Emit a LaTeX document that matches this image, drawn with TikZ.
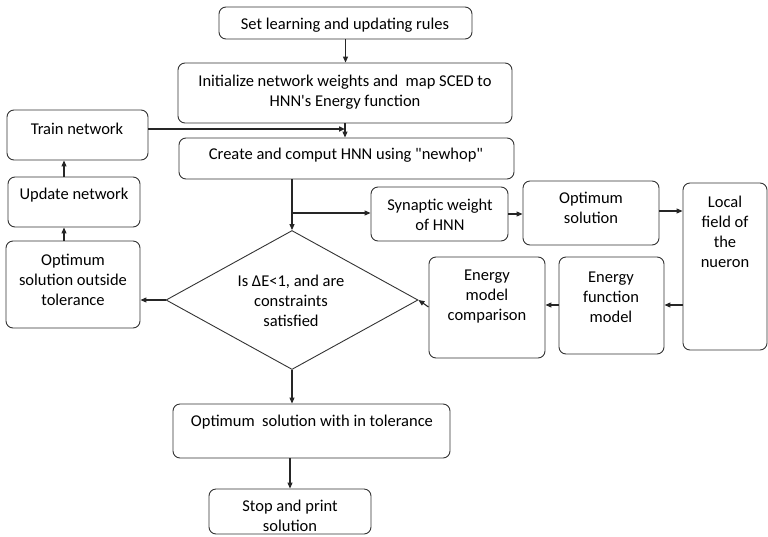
\documentclass[tikz,border=0pt]{standalone}
\usepackage{fontspec}
\setmainfont{Carlito}
\usetikzlibrary{arrows.meta,shapes.geometric}
\newcommand\sdq{\XeTeXglyph\XeTeXcharglyph"22\relax}
\newcommand\ssq{\XeTeXglyph\XeTeXcharglyph"27\relax}
\begin{document}
\begin{tikzpicture}[x=1pt,y=-1pt,
  box/.style={draw=black!80, line width=0.9pt, rounded corners=7pt, inner sep=0pt},
  lbl/.style={font=\fontsize{16.5}{20}\selectfont, align=center, inner sep=0pt, text=black},
  arr/.style={draw=black!85, line width=1.1pt, -{Triangle[length=6pt,width=5pt]}}]
\useasboundingbox (0,0) rectangle (768,536);
% boxes
\node[box, minimum width=253pt, minimum height=32pt] (set) at (345.5,23) {};
\node[box, minimum width=334pt, minimum height=60pt] (init) at (345,93) {};
\node[box, minimum width=141pt, minimum height=50pt] (train) at (77.5,135) {};
\node[box, minimum width=335pt, minimum height=41pt] (create) at (346.5,158.5) {};
\node[box, minimum width=132pt, minimum height=50pt] (update) at (74,202) {};
\node[box, minimum width=134pt, minimum height=87pt] (outside) at (73,284.5) {};
\node[box, minimum width=137pt, minimum height=54pt] (syn) at (439.5,214) {};
\node[box, minimum width=136pt, minimum height=64pt] (opt) at (591,213) {};
\node[box, minimum width=84pt, minimum height=167pt] (local) at (725,266.5) {};
\node[box, minimum width=105pt, minimum height=97pt] (enfunc) at (611.5,305.5) {};
\node[box, minimum width=116pt, minimum height=101pt] (encomp) at (487,307.5) {};
\node[box, minimum width=277pt, minimum height=54pt] (within) at (311.5,431) {};
\node[box, minimum width=162pt, minimum height=45pt] (stop) at (290,511.5) {};
\node[draw=black!80, line width=0.9pt, diamond, minimum width=252pt, minimum height=139pt, inner sep=0pt] (dia) at (292,300) {};
% labels
\node[lbl] (t1) at (345,25) {Set learning and updating rules};
\node[lbl] (t2) at (345,92) {Initialize network weights and\ \ map SCED to\\HNN\ssq s Energy function};
\node[lbl] (t3) at (77,129) {Train network};
\node[lbl] (t4) at (346,155) {Create and comput HNN using \sdq newhop\sdq};
\node[lbl] (t5) at (74,195) {Update network};
\node[lbl] (t6) at (73,280) {Optimum\\solution outside\\tolerance};
\node[lbl] (t7) at (291,301) {Is ΔE<1, and are\\constraints\\satisfied};
\node[lbl] (t8) at (440,215) {Synaptic weight\\of HNN};
\node[lbl] (t9) at (591,208) {Optimum\\solution};
\node[lbl] (t10) at (725,232) {Local\\field of\\the\\nueron};
\node[lbl] (t11) at (611,297) {Energy\\function\\model};
\node[lbl] (t12) at (487,297) {Energy\\model\\comparison};
\node[lbl] (t13) at (312,422) {Optimum\ \ solution with in tolerance};
\node[lbl] (t14) at (290,516) {Stop and print\\solution};
% connectors
\draw[arr] (set.south) -- (set.south |- init.north);
\draw[arr] (init.south) -- (init.south |- create.north);
\draw[arr, line width=1.6pt] (train.east |- 0,129) -- (init.south |- 0,129);
\draw[arr] (update.north -| 64,0) -- (train.south -| 64,0);
\draw[arr] (outside.north -| 64,0) -- (update.south -| 64,0);
\draw[arr] (dia.north |- create.south) -- (dia.north);
\draw[arr] (dia.north |- 0,213) -- (syn.west |- 0,213);
\draw[arr] (syn.east) -- (opt.west |- syn.east);
\draw[arr] (opt.east |- 0,211) -- (local.west |- 0,211);
\draw[arr] (local.west |- 0,305) -- (enfunc.east |- 0,305);
\draw[arr] (enfunc.west |- 0,305) -- (encomp.east |- 0,305);
\draw[arr] (encomp.west |- 0,307) -- (dia.east);
\draw[arr] (dia.west) -- (outside.east |- dia.west);
\draw[arr] (dia.south) -- (dia.south |- within.north);
\draw[arr] (stop.north |- within.south) -- (stop.north);
\end{tikzpicture}
\end{document}
